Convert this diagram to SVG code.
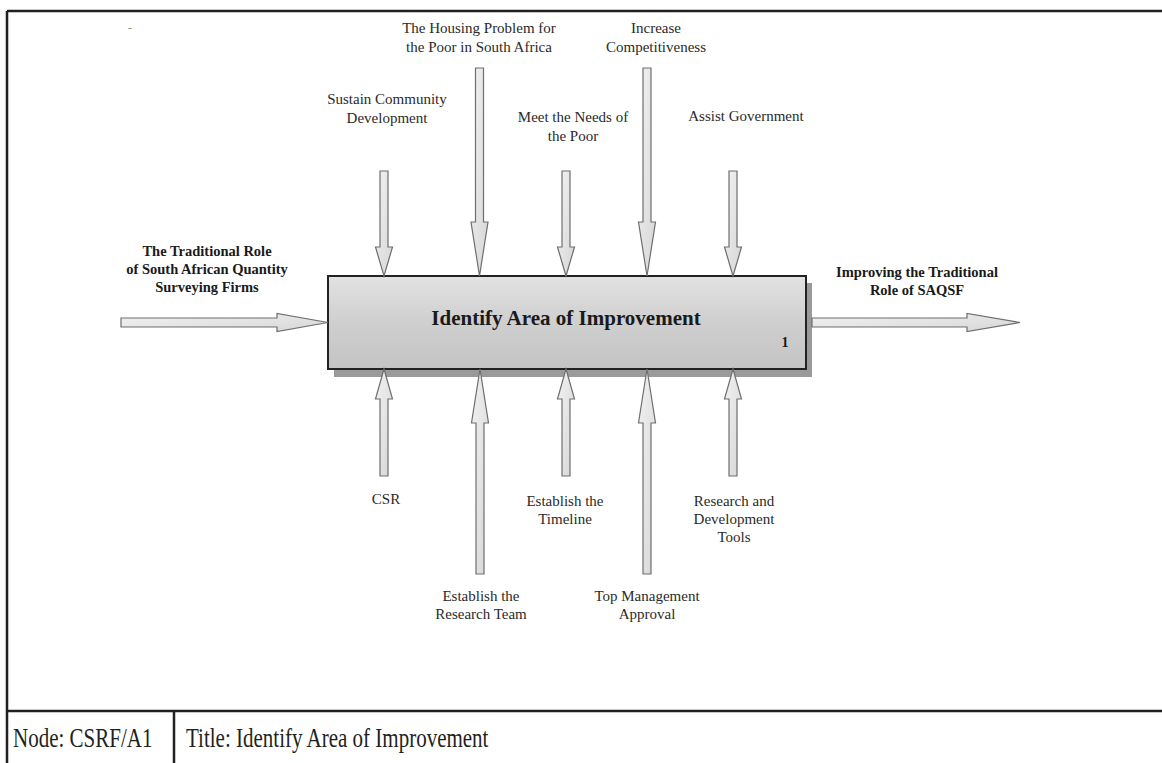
<svg xmlns="http://www.w3.org/2000/svg" width="1162" height="763" viewBox="0 0 1162 763">
  <style>
    .frame { stroke: #231f20; stroke-width: 2.5; fill: none; }
    .lbl { font-family: "Liberation Serif", "Times New Roman", serif; font-size: 15px; fill: #2a2a2a; text-anchor: middle; }
    .blbl { font-family: "Liberation Serif", "Times New Roman", serif; font-size: 14.5px; font-weight: bold; fill: #1a1a1a; text-anchor: middle; }
    .arrow { fill: url(#shaftFill); stroke: #6e6e6e; stroke-width: 1.2; stroke-linejoin: miter; }
    .cell { font-family: "Liberation Serif", "Times New Roman", serif; font-size: 21px; fill: #231f20; }
  </style>
  <defs>
    <linearGradient id="boxFill" x1="0" y1="0" x2="0" y2="1">
      <stop offset="0" stop-color="#e2e2e2"/>
      <stop offset="0.5" stop-color="#cfcfcf"/>
      <stop offset="1" stop-color="#c4c4c4"/>
    </linearGradient>
    <linearGradient id="shaftFill" x1="0" y1="0" x2="1" y2="1">
      <stop offset="0" stop-color="#f2f2f2"/>
      <stop offset="1" stop-color="#d6d6d6"/>
    </linearGradient>
  </defs>

  <rect width="1162" height="763" fill="#ffffff"/>

  <!-- page frame and title table -->
  <g id="frame">
    <line class="frame" x1="7" y1="11" x2="1162" y2="11"/>
    <line class="frame" x1="7" y1="11" x2="7" y2="763"/>
    <line class="frame" x1="7" y1="711" x2="1162" y2="711"/>
    <line class="frame" x1="174" y1="711" x2="174" y2="763"/>
    <text class="cell" transform="translate(13,747) scale(1,1.25)">Node: CSRF/A1</text>
    <text class="cell" transform="translate(186,747) scale(1,1.25)">Title: Identify Area of Improvement</text>
  </g>

  <text x="128" y="32" font-family="Liberation Serif, serif" font-size="12" fill="#888">-</text>

  <!-- activity box -->
  <g id="activity-1">
    <rect x="334" y="283" width="478" height="94" fill="#9a9a9a"/>
    <rect x="328" y="276" width="478" height="93" fill="url(#boxFill)" stroke="#222" stroke-width="2"/>
    <text x="566" y="325" font-family="Liberation Serif, serif" font-size="21" font-weight="bold" fill="#1a1a1a" text-anchor="middle">Identify Area of Improvement</text>
    <text x="785" y="347" font-family="Liberation Serif, serif" font-size="14" font-weight="bold" fill="#1a1a1a" text-anchor="middle">1</text>
  </g>

  <!-- arrows: input, output, controls (top) and mechanisms (bottom) -->
  <g id="connectors">
    <!-- input -->
    <polygon class="arrow" points="121,318 277,318 277,313.5 328,322.5 277,331.5 277,327 121,327"/>
    <!-- output -->
    <polygon class="arrow" points="812,318 967,318 967,313.5 1020,322.5 967,331.5 967,327 812,327"/>
    <!-- controls -->
    <polygon class="arrow" points="380,171 388,171 388,247 392.5,247 384,276 375.5,247 380,247"/>
    <polygon class="arrow" points="475.5,68 483.5,68 483.5,222 488,222 479.5,276 471,222 475.5,222"/>
    <polygon class="arrow" points="562,171 570,171 570,247 574.5,247 566,276 557.5,247 562,247"/>
    <polygon class="arrow" points="643,68 651,68 651,222 655.5,222 647,276 638.5,222 643,222"/>
    <polygon class="arrow" points="729,171 737,171 737,247 741.5,247 733,276 724.5,247 729,247"/>
    <!-- mechanisms -->
    <polygon class="arrow" points="380,476 388,476 388,399 392.5,399 384,369 375.5,399 380,399"/>
    <polygon class="arrow" points="476,574 484,574 484,423 488.5,423 480,369 471.5,423 476,423"/>
    <polygon class="arrow" points="562,476 570,476 570,399 574.5,399 566,369 557.5,399 562,399"/>
    <polygon class="arrow" points="643,574 651,574 651,423 655.5,423 647,369 638.5,423 643,423"/>
    <polygon class="arrow" points="729,476 737,476 737,399 741.5,399 733,369 724.5,399 729,399"/>
  </g>

  <!-- labels -->
  <g id="label-input">
    <text class="blbl" x="207" y="256">The Traditional Role</text>
    <text class="blbl" x="207" y="274">of South African Quantity</text>
    <text class="blbl" x="207" y="292">Surveying Firms</text>
  </g>
  <g id="label-output">
    <text class="blbl" x="917" y="277">Improving the Traditional</text>
    <text class="blbl" x="917" y="295">Role of SAQSF</text>
  </g>
  <g id="label-housing">
    <text class="lbl" x="479" y="33">The Housing Problem for</text>
    <text class="lbl" x="479" y="52">the Poor in South Africa</text>
  </g>
  <g id="label-competitiveness">
    <text class="lbl" x="656" y="33">Increase</text>
    <text class="lbl" x="656" y="52">Competitiveness</text>
  </g>
  <g id="label-community">
    <text class="lbl" x="387" y="104">Sustain Community</text>
    <text class="lbl" x="387" y="123">Development</text>
  </g>
  <g id="label-needs">
    <text class="lbl" x="573" y="122">Meet the Needs of</text>
    <text class="lbl" x="573" y="141">the Poor</text>
  </g>
  <g id="label-government">
    <text class="lbl" x="746" y="121">Assist Government</text>
  </g>
  <g id="label-csr">
    <text class="lbl" x="386" y="504">CSR</text>
  </g>
  <g id="label-timeline">
    <text class="lbl" x="565" y="506">Establish the</text>
    <text class="lbl" x="565" y="524">Timeline</text>
  </g>
  <g id="label-rd">
    <text class="lbl" x="734" y="506">Research and</text>
    <text class="lbl" x="734" y="524">Development</text>
    <text class="lbl" x="734" y="542">Tools</text>
  </g>
  <g id="label-team">
    <text class="lbl" x="481" y="601">Establish the</text>
    <text class="lbl" x="481" y="619">Research Team</text>
  </g>
  <g id="label-approval">
    <text class="lbl" x="647" y="601">Top Management</text>
    <text class="lbl" x="647" y="619">Approval</text>
  </g>
</svg>
